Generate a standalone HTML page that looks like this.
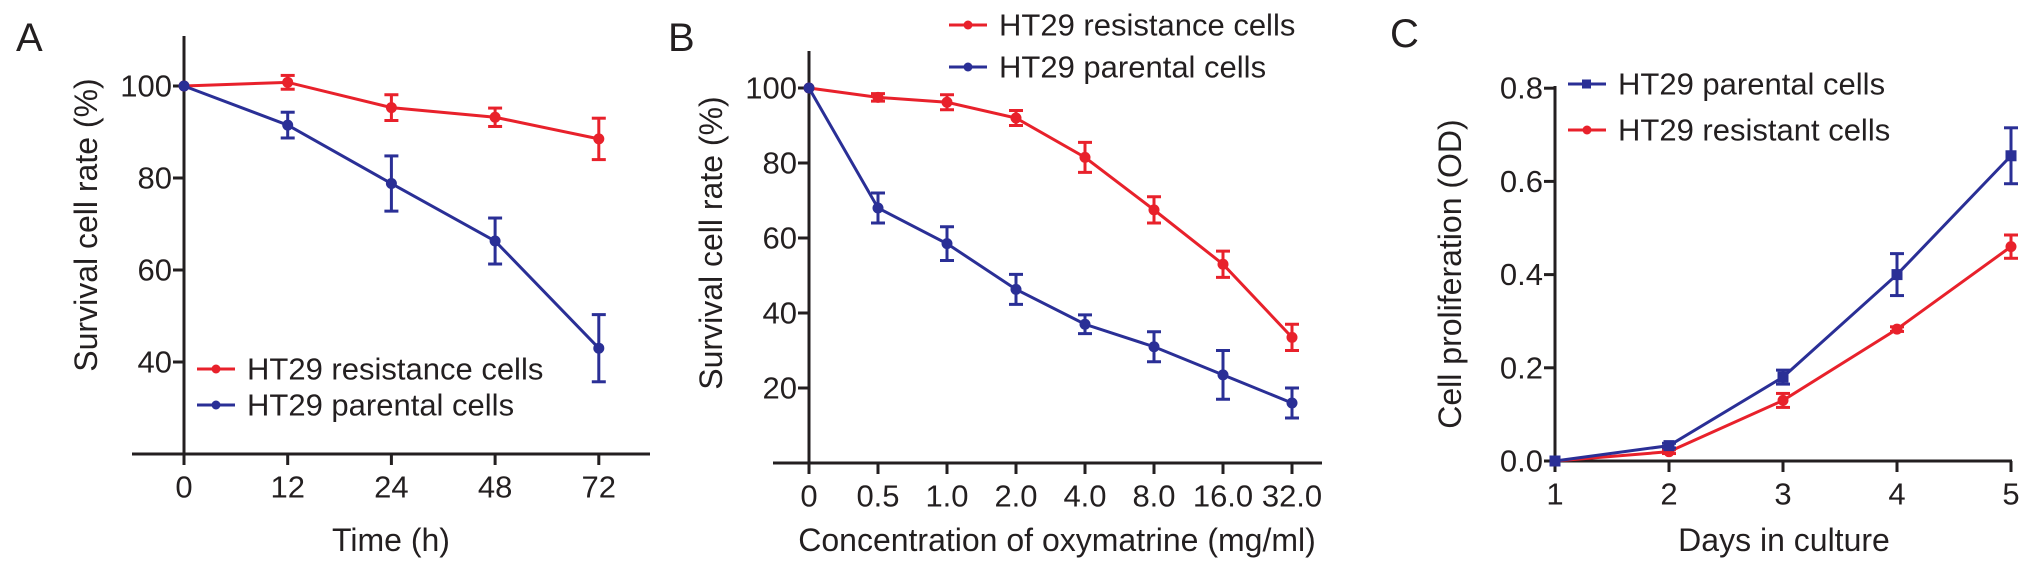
<!DOCTYPE html>
<html><head><meta charset="utf-8"><style>
html,body{margin:0;padding:0;background:#fff;}
svg{display:block;font-family:"Liberation Sans",Arial,sans-serif;}
</style></head><body>
<svg id="fig" width="2032" height="573" viewBox="0 0 2032 573" xmlns="http://www.w3.org/2000/svg"></svg>
<script>
// Panel A data
const aCategories = ["0","12","24","48","72"];
const aResist = [100, 100.8, 95.3, 93.2, 88.5];
const aResistErr = [0, 1.5, 2.8, 2, 4.5];
const aParent = [100, 91.5, 78.8, 66.3, 43];
const aParentErr = [0, 2.8, 6, 5, 7.3];
const aYTicks = [40, 60, 80, 100];
// Panel B data
const bCategories = ["0","0.5","1.0","2.0","4.0","8.0","16.0","32.0"];
const bResist = [100, 97.5, 96.2, 92, 81.5, 67.5, 53, 33.5];
const bResistErr = [0, 1, 2, 2, 4, 3.5, 3.5, 3.5];
const bParent = [100, 68, 58.5, 46.3, 37, 31, 23.5, 16];
const bParentErr = [0, 4, 4.5, 4, 2.5, 4, 6.5, 4];
const bYTicks = [20, 40, 60, 80, 100];
// Panel C data
const cCategories = ["1","2","3","4","5"];
const cParent = [0, 0.033, 0.18, 0.40, 0.655];
const cParentErr = [0, 0.005, 0.015, 0.045, 0.06];
const cResist = [0, 0.02, 0.13, 0.283, 0.46];
const cResistErr = [0, 0.004, 0.015, 0.005, 0.025];
const cYTicks = ["0.0","0.2","0.4","0.6","0.8"];

const RED = "#e8212b", BLUE = "#2a2f96", AX = "#231f20";
const svg = document.getElementById("fig");
const NS = "http://www.w3.org/2000/svg";
function el(tag, attrs, parent) {
  const e = document.createElementNS(NS, tag);
  for (const k in attrs) e.setAttribute(k, attrs[k]);
  (parent || svg).appendChild(e);
  return e;
}
function txt(s, x, y, size, anchor, parent, rot) {
  const t = el("text", {x: x, y: y, "font-size": size, "text-anchor": anchor || "middle", fill: AX, "dominant-baseline": "central"}, parent);
  if (rot) t.setAttribute("transform", "rotate(-90 " + x + " " + y + ")");
  t.textContent = s;
  return t;
}

function panel(cfg) {
  const g = el("g", {});
  
  
  const xs = i => cfg.x0 + i * cfg.dx;
  const ys = v => cfg.yBase - (v - cfg.vBase) * cfg.py;
  // axes
  const yax = el("line", {x1: cfg.x0, y1: cfg.yTop, x2: cfg.x0, y2: cfg.yBase + 10, stroke: AX, "stroke-width": 3}, g);
  
  
  const xax = el("line", {x1: cfg.xL, y1: cfg.yBase, x2: cfg.xR, y2: cfg.yBase, stroke: AX, "stroke-width": 3}, g);
  
  
  cfg.cats.forEach((c, i) => {
    el("line", {x1: xs(i), y1: cfg.yBase, x2: xs(i), y2: cfg.yBase + 11, stroke: AX, "stroke-width": 3}, g);
    const t = txt(c, xs(i), cfg.yBase + 33, 31, "middle", g);
    
    
  });
  cfg.yt.forEach(v => {
    const y = ys(parseFloat(v));
    el("line", {x1: cfg.x0 - 11, y1: y, x2: cfg.x0, y2: y, stroke: AX, "stroke-width": 3}, g);
    const t = txt(String(v), cfg.x0 - 12, y, 31, "end", g);
    
    
  });
  const xt = txt(cfg.xTitle, cfg.xTitleX, 540, 32, "middle", g);
  
  
  const yt = txt(cfg.yTitle, cfg.yTitleX, cfg.yTitleY, 32, "middle", g, true);
  
  
  const lab = txt(cfg.label, cfg.labelX, cfg.labelY, 40, "start", g);
  
  
  // series
  cfg.series.forEach(s => {
    const sg = el("g", {}, g);
    
    
    const pts = s.vals.map((v, i) => xs(i) + "," + ys(v)).join(" ");
    el("polyline", {points: pts, fill: "none", stroke: s.color, "stroke-width": 3}, sg);
    s.vals.forEach((v, i) => {
      const e = s.err[i];
      if (e > 0) {
        const y1 = ys(v + e), y2 = ys(v - e), x = xs(i);
        el("line", {x1: x, y1: y1, x2: x, y2: y2, stroke: s.color, "stroke-width": 3}, sg);
        el("line", {x1: x - 7, y1: y1, x2: x + 7, y2: y1, stroke: s.color, "stroke-width": 3}, sg);
        el("line", {x1: x - 7, y1: y2, x2: x + 7, y2: y2, stroke: s.color, "stroke-width": 3}, sg);
      }
      let m;
      if (s.square) m = el("rect", {x: xs(i) - 5.5, y: ys(v) - 5.5, width: 11, height: 11, fill: s.color}, sg);
      else m = el("circle", {cx: xs(i), cy: ys(v), r: 5.5, fill: s.color}, sg);
      
      
    });
  });
  // legend
  cfg.legend.forEach(L => {
    const lg = el("g", {}, g);
    
    
    el("line", {x1: L.x, y1: L.y, x2: L.x + 38, y2: L.y, stroke: L.color, "stroke-width": 3}, lg);
    if (L.square) el("rect", {x: L.x + 14, y: L.y - 4.5, width: 9, height: 9, fill: L.color}, lg);
    else el("circle", {cx: L.x + 19, cy: L.y, r: 4.5, fill: L.color}, lg);
    txt(L.text, L.x + 50, L.y, 31, "start", lg);
  });
}

panel({name: "panel-a", x0: 184, dx: 103.7, yBase: 454, vBase: 20, py: 4.6, yTop: 36, xL: 132, xR: 650,
  cats: aCategories, yt: aYTicks, xTitle: "Time (h)", xTitleX: 391, yTitle: "Survival cell rate (%)", yTitleX: 86, yTitleY: 225,
  label: "A", labelX: 16, labelY: 38,
  series: [{name: "series-resistance", vals: aResist, err: aResistErr, color: RED},
           {name: "series-parental", vals: aParent, err: aParentErr, color: BLUE}],
  legend: [{x: 197, y: 369, color: RED, text: "HT29 resistance cells"}, {x: 197, y: 405, color: BLUE, text: "HT29 parental cells"}]});

panel({name: "panel-b", x0: 809, dx: 69, yBase: 463, vBase: 0, py: 3.75, yTop: 51, xL: 773, xR: 1322,
  cats: bCategories, yt: bYTicks, xTitle: "Concentration of oxymatrine (mg/ml)", xTitleX: 1057, yTitle: "Survival cell rate (%)", yTitleX: 711, yTitleY: 243,
  label: "B", labelX: 668, labelY: 38,
  series: [{name: "series-resistance", vals: bResist, err: bResistErr, color: RED},
           {name: "series-parental", vals: bParent, err: bParentErr, color: BLUE}],
  legend: [{x: 949, y: 25, color: RED, text: "HT29 resistance cells"}, {x: 949, y: 67, color: BLUE, text: "HT29 parental cells"}]});

panel({name: "panel-c", x0: 1555, dx: 114, yBase: 461, vBase: 0, py: 466, yTop: 86, xL: 1555, xR: 2012,
  cats: cCategories, yt: cYTicks, xTitle: "Days in culture", xTitleX: 1784, yTitle: "Cell proliferation (OD)", yTitleX: 1450, yTitleY: 274,
  label: "C", labelX: 1390, labelY: 34,
  series: [{name: "series-resistant", vals: cResist, err: cResistErr, color: RED},
           {name: "series-parental", vals: cParent, err: cParentErr, color: BLUE, square: true}],
  legend: [{x: 1568, y: 84, color: BLUE, text: "HT29 parental cells", square: true}, {x: 1568, y: 130, color: RED, text: "HT29 resistant cells"}]});
</script>
</body></html>
